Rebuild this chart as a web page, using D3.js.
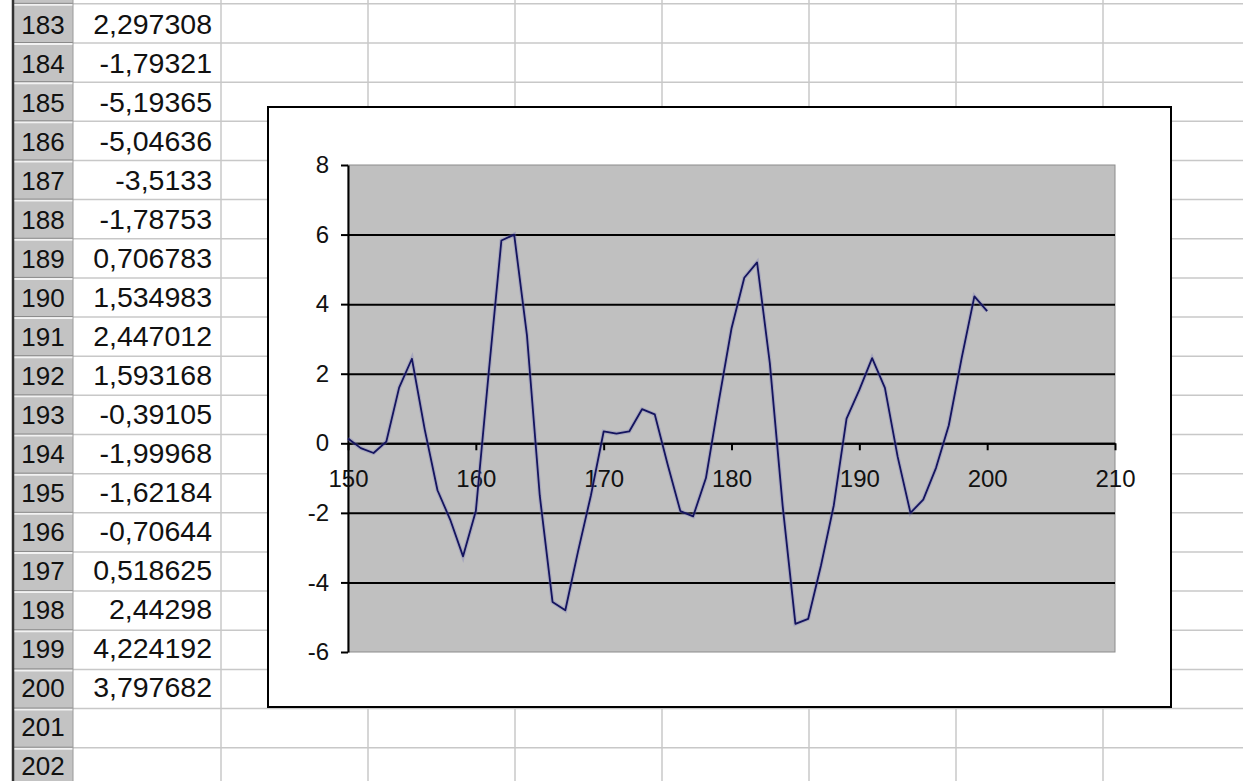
<!DOCTYPE html>
<html>
<head>
<meta charset="utf-8">
<script src="https://cdnjs.cloudflare.com/ajax/libs/d3/7.8.5/d3.min.js"></script>
<style>
body { margin: 0; background: #fff; }
svg { display: block; }
</style>
</head>
<body>
<svg width="1243" height="781"></svg>
<script>
// spreadsheet rows shown on the left
var rowNumbers = [183, 184, 185, 186, 187, 188, 189, 190, 191, 192, 193, 194, 195, 196, 197, 198, 199, 200, 201, 202];
var tableValues = [2.297308, -1.79321, -5.19365, -5.04636, -3.5133, -1.78753, 0.706783, 1.534983, 2.447012,
    1.593168, -0.39105, -1.99968, -1.62184, -0.70644, 0.518625, 2.44298, 4.224192, 3.797682]; // rows 183..200

// chart series, x = 150..200 ; 150..182, the rest is the table above
var xValues = [150, 151, 152, 153, 154, 155, 156, 157, 158, 159, 160, 161, 162, 163, 164, 165, 166, 167, 168, 169,
    170, 171, 172, 173, 174, 175, 176, 177, 178, 179, 180, 181, 182, 183, 184, 185, 186, 187, 188, 189,
    190, 191, 192, 193, 194, 195, 196, 197, 198, 199, 200];
var earlyValues = [0.14, -0.14, -0.28, 0.05, 1.6, 2.43, 0.4, -1.35, -2.2, -3.25, -1.95, 2.0, 5.83, 6.0, 3.1, -1.5,
    -4.56, -4.8, -3.1, -1.5, 0.34, 0.28, 0.34, 0.98, 0.83, -0.6, -1.95, -2.1, -1.0, 1.2, 3.3, 4.76, 5.2];
var yValues = earlyValues.concat(tableValues);

var xTicks = [150, 160, 170, 180, 190, 200, 210];
var yTicks = [-6, -4, -2, 0, 2, 4, 6, 8];

var svg = d3.select("svg");
var font = "Arial, 'Liberation Sans', sans-serif";

// ---------- the sheet behind the chart ----------
var rowTop = 3.85, rowH = 39.15;
var colLines = [221, 368, 515, 662, 809, 956, 1103];
function textY(i) { return rowTop + i * rowH + 30.5 - i * 0.15; } // text sits a bit higher lower down

var sheet = svg.append("g");
sheet.selectAll(".hline") //cell borders, one per row boundary
    .data(d3.range(rowNumbers.length + 1))
    .enter().append("line")
    .attr("x1", 73).attr("x2", 1243)
    .attr("y1", d => rowTop + d * rowH).attr("y2", d => rowTop + d * rowH)
    .attr("stroke", "#c8c8c8").attr("stroke-width", 1.5);
sheet.selectAll(".vline")
    .data(colLines)
    .enter().append("line")
    .attr("x1", d => d).attr("x2", d => d)
    .attr("y1", 0).attr("y2", 781)
    .attr("stroke", "#c8c8c8").attr("stroke-width", 1.5);

// row header column
sheet.append("rect").attr("x", 14).attr("y", 0).attr("width", 59).attr("height", 781).attr("fill", "#c3c3c3");
sheet.selectAll(".hsep")
    .data(d3.range(rowNumbers.length + 1))
    .enter().append("line")
    .attr("x1", 14).attr("x2", 73)
    .attr("y1", d => rowTop + d * rowH + 1).attr("y2", d => rowTop + d * rowH + 1)
    .attr("stroke", "#f2f2f2").attr("stroke-width", 2);
sheet.selectAll(".hsep2")
    .data(d3.range(rowNumbers.length + 1))
    .enter().append("line")
    .attr("x1", 14).attr("x2", 73)
    .attr("y1", d => rowTop + d * rowH - 0.5).attr("y2", d => rowTop + d * rowH - 0.5)
    .attr("stroke", "#8a8a8a").attr("stroke-width", 1);
sheet.append("line").attr("x1", 13).attr("x2", 13).attr("y1", 0).attr("y2", 781)
    .attr("stroke", "#333").attr("stroke-width", 2.5);
sheet.append("line").attr("x1", 73).attr("x2", 73).attr("y1", 0).attr("y2", 781)
    .attr("stroke", "#9a9a9a").attr("stroke-width", 1);

sheet.selectAll(".rownum")
    .data(rowNumbers)
    .enter().append("text")
    .attr("x", 43)
    .attr("y", (d, i) => textY(i))
    .attr("text-anchor", "middle")
    .attr("font-family", font).attr("font-size", "26px").attr("fill", "#111")
    .text(d => d);

sheet.selectAll(".cell")
    .data(tableValues)
    .enter().append("text")
    .attr("x", 212)
    .attr("y", (d, i) => textY(i))
    .attr("text-anchor", "end")
    .attr("font-family", font).attr("font-size", "28.5px").attr("fill", "#111")
    .text(d => String(d).replace(".", ",")); // decimal comma like the sheet

// ---------- chart object ----------
var chart = svg.append("g");
chart.append("rect") //chart frame
    .attr("x", 268).attr("y", 107).attr("width", 903).attr("height", 600)
    .attr("fill", "#fff").attr("stroke", "#000").attr("stroke-width", 2);

var xScale = d3.scaleLinear().domain([150, 210]).range([348, 1115]);
var yScale = d3.scaleLinear().domain([-6, 8]).range([652, 165]);

chart.append("rect") //gray plot area
    .attr("x", xScale(150)).attr("y", yScale(8))
    .attr("width", xScale(210) - xScale(150)).attr("height", yScale(-6) - yScale(8))
    .attr("fill", "#c0c0c0").attr("stroke", "#8c8c8c").attr("stroke-width", 1);

// horizontal gridlines
var grid = chart.append("g")
    .attr("transform", "translate(" + xScale(150) + ",0)")
    .call(d3.axisLeft(yScale).tickValues(yTicks.filter(d => d > -6 && d < 8))
        .tickSize(-(xScale(210) - xScale(150))).tickFormat(""));
grid.select(".domain").remove();
grid.selectAll("line").attr("stroke", "#000").attr("stroke-width", 2);

// y axis
var yAxis = chart.append("g")
    .attr("transform", "translate(" + xScale(150) + ",0)")
    .call(d3.axisLeft(yScale).tickValues(yTicks).tickFormat(d => String(d))
        .tickSize(7).tickSizeOuter(0).tickPadding(12));
yAxis.select(".domain").attr("stroke", "#000").attr("stroke-width", 2);
yAxis.selectAll("line").attr("stroke", "#000").attr("stroke-width", 2);
yAxis.selectAll("text").attr("font-family", font).attr("font-size", "24px").attr("fill", "#111");

// x axis sits on y = 0
var xAxis = chart.append("g")
    .attr("transform", "translate(0," + yScale(0) + ")")
    .call(d3.axisBottom(xScale).tickValues(xTicks).tickFormat(d => String(d))
        .tickSize(7).tickSizeOuter(0).tickPadding(20));
xAxis.select(".domain").attr("stroke", "#000").attr("stroke-width", 2);
xAxis.selectAll("line").attr("stroke", "#000").attr("stroke-width", 2);
xAxis.selectAll("text").attr("font-family", font).attr("font-size", "24px").attr("fill", "#111");

// the series
var line = d3.line()
    .x((d, i) => xScale(xValues[i]))
    .y(d => yScale(d));
chart.append("path")
    .datum(yValues)
    .attr("d", line)
    .attr("fill", "none")
    .attr("stroke", "#7a7ab8").attr("stroke-width", 4).attr("stroke-opacity", 0.35); // soft halo
chart.append("path")
    .datum(yValues)
    .attr("d", line)
    .attr("fill", "none")
    .attr("stroke", "#14145e").attr("stroke-width", 1.8)
    .attr("stroke-linejoin", "round");
</script>
</body>
</html>
